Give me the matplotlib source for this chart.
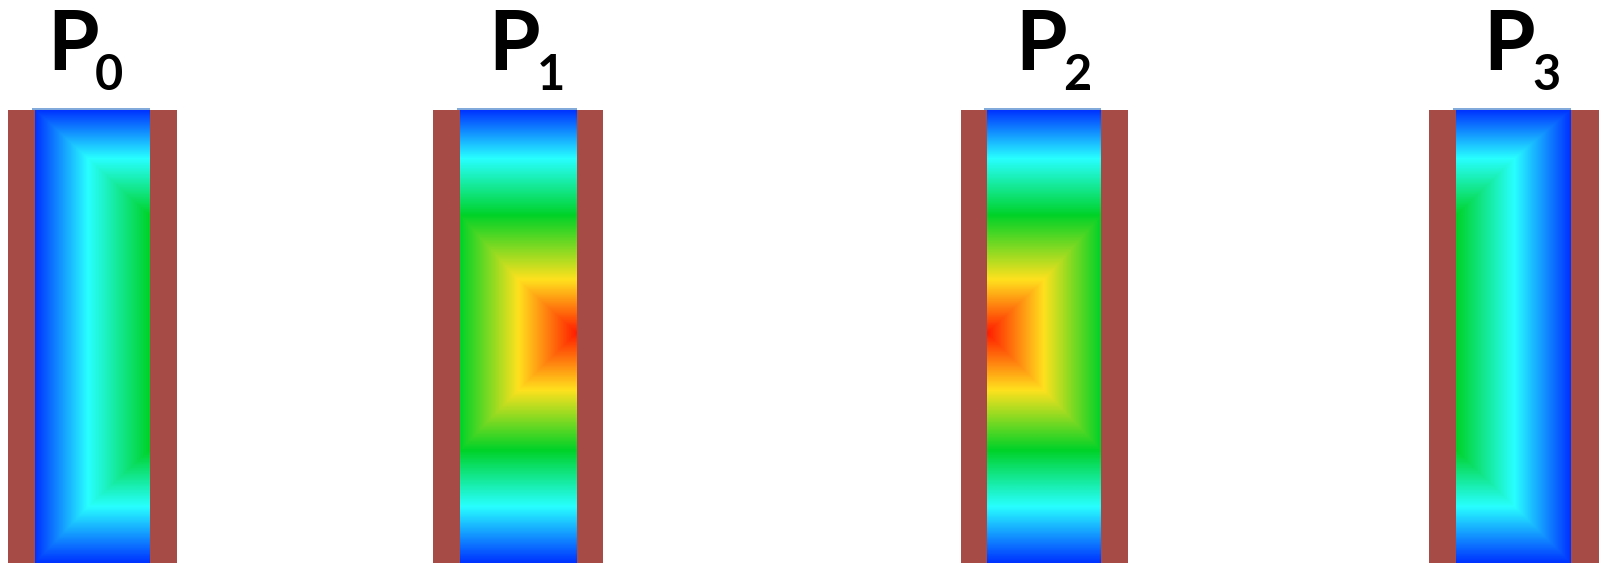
import numpy as np
import matplotlib
matplotlib.use("Agg")
import matplotlib.pyplot as plt
from matplotlib.colors import LinearSegmentedColormap, Normalize
from matplotlib.patches import Rectangle

# ---------------- data ----------------
panel_names = ["P", "P", "P", "P"]
panel_subs = ["0", "1", "2", "3"]

# colour levels of the field: blue, cyan, green, yellow, red
level_values = [0, 1, 2, 3, 4]
level_colors = ["#0033FF", "#28FFFF", "#00D228", "#FFE11E", "#FF1E00"]

# vertical profile (shared by all panels): fraction from top -> level
v_frac = [0.0, 0.106, 0.232, 0.375, 0.492, 0.618, 0.751, 0.876, 1.0]
v_level = [0, 1, 2, 3, 4, 3, 2, 1, 0]

# horizontal profiles, one per panel: fraction from left -> level
u_frac_p0 = [0.0, 0.46, 1.0]
u_level_p0 = [0, 1, 2]
u_frac_p1 = [0.0, 0.50, 1.0]
u_level_p1 = [2, 3, 4]
u_frac_p2 = [0.0, 0.50, 1.0]
u_level_p2 = [4, 3, 2]
u_frac_p3 = [0.0, 0.51, 1.0]
u_level_p3 = [2, 1, 0]

u_fracs = [u_frac_p0, u_frac_p1, u_frac_p2, u_frac_p3]
u_levels = [u_level_p0, u_level_p1, u_level_p2, u_level_p3]

# ---------------- layout (pixels) ----------------
W, H = 1603, 563
# (brown-left x0, inner x0, inner x1, brown-right x1)
panels_x = [(8, 35, 150, 177),
            (433, 460, 577, 603),
            (961, 987, 1101, 1128),
            (1429, 1456, 1571, 1599)]
top_y = 110
bot_y = 563
title_x = [(47, 95), (488, 537), (1015, 1063), (1483, 1532)]
brown = "#A64B45"

fig = plt.figure(figsize=(W / 100, H / 100), dpi=100)
ax = fig.add_axes([0, 0, 1, 1])
ax.set_xlim(0, W)
ax.set_ylim(H, 0)
ax.axis("off")

cmap = LinearSegmentedColormap.from_list(
    "field", [(v / max(level_values), c) for v, c in zip(level_values, level_colors)])
norm = Normalize(vmin=min(level_values), vmax=max(level_values))

ny, nx = 600, 200
yy = np.linspace(0, 1, ny)
xx = np.linspace(0, 1, nx)
vprof = np.interp(yy, v_frac, v_level)

for i, (bx0, ix0, ix1, bx1) in enumerate(panels_x):
    uprof = np.interp(xx, u_fracs[i], u_levels[i])
    field = np.minimum(uprof[None, :], vprof[:, None])
    ax.imshow(field, cmap=cmap, norm=norm, extent=(ix0, ix1, bot_y, top_y),
              aspect="auto", interpolation="bilinear", zorder=1)
    ax.add_patch(Rectangle((bx0, top_y), ix0 - bx0, bot_y - top_y,
                           facecolor=brown, edgecolor="none", zorder=2))
    ax.add_patch(Rectangle((ix1, top_y), bx1 - ix1, bot_y - top_y,
                           facecolor=brown, edgecolor="none", zorder=2))
    ax.plot([ix0 - 3, ix1], [top_y - 1, top_y - 1], color="#6A9BD6", lw=1.2,
            zorder=3, solid_capstyle="butt")
    px, sx = title_x[i]
    ax.text(px, 70, panel_names[i], fontsize=60, fontweight="bold",
            family="Lato", ha="left", va="baseline", color="black")
    ax.text(sx, 90, panel_subs[i], fontsize=35, fontweight="bold",
            family="Lato", ha="left", va="baseline", color="black")

fig.savefig("out.png", dpi=100)
